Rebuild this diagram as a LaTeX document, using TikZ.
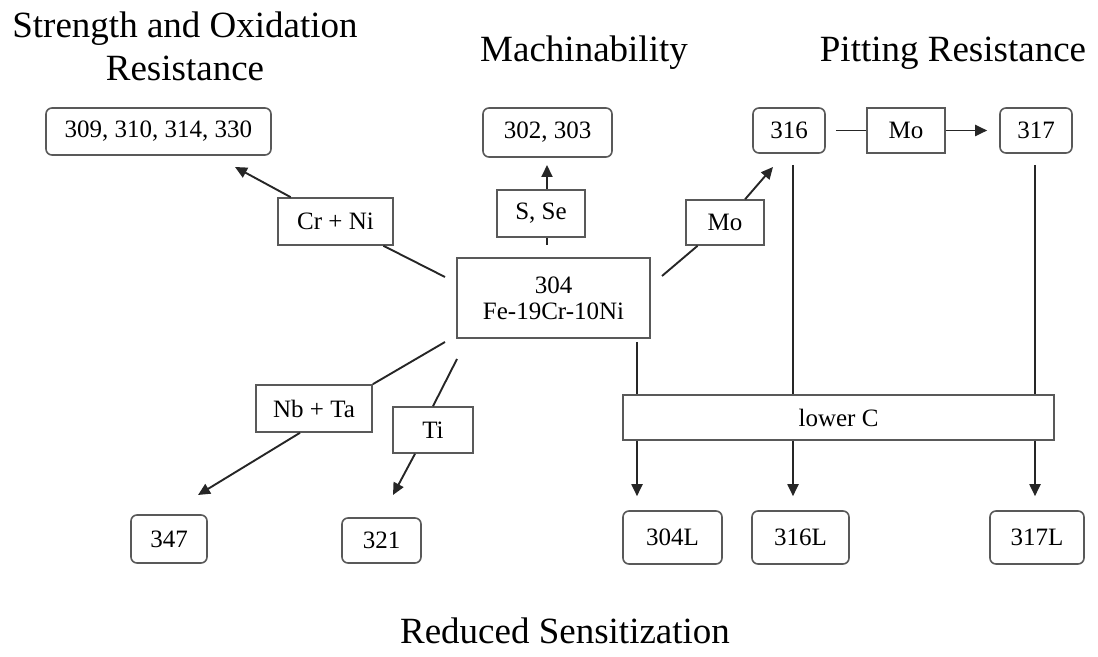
\documentclass[tikz,border=0pt]{standalone}
\usepackage{fontspec}
\setmainfont{Liberation Serif}
\usetikzlibrary{arrows.meta}
\begin{document}
\begin{tikzpicture}[x=0.5pt,y=-0.5pt,
  wh/.style 2 args={minimum width=#1*0.5pt, minimum height=#2*0.5pt},
  box/.style={draw=black!65, line width=0.8pt, fill=white, inner sep=0pt,
    font=\fontsize{12.5}{13}\selectfont, align=center},
  rbox/.style={box, rounded corners=3pt},
  title/.style={font=\fontsize{18.5}{21.5}\selectfont, align=center, inner sep=0pt},
  con/.style={draw=black!85, line width=0.95pt},
  arr/.style={con, -{Triangle[length=6pt,width=5.5pt]}}]

\useasboundingbox (0,0) rectangle (1098,657);

% titles
\node[title, anchor=base] (t1) at (185,38) {Strength and Oxidation};
\node[title, anchor=base] (t1b) at (185,81) {Resistance};
\node[title, anchor=base] (t2) at (584,62) {Machinability};
\node[title, anchor=base] (t3) at (953,62) {Pitting Resistance};
\node[title, anchor=base] (t4) at (565,643) {Reduced Sensitization};

% top boxes
\node[rbox, wh={225}{47}] (b309) at (158.5,131.5) {309, 310, 314, 330};
\node[rbox, wh={129}{49}] (b302) at (547.5,132.5) {302, 303};
\node[rbox, wh={72}{45}] (b316) at (789,130.5) {316};
\node[box,  wh={78}{45}] (moT) at (906,130.5) {Mo};
\node[rbox, wh={72}{45}] (b317) at (1036,130.5) {317};

% additive boxes
\node[box, wh={88}{47}] (sse) at (541,213.5) {S, Se};
\node[box, wh={115}{47}] (crni) at (335.5,221.5) {Cr + Ni};
\node[box, wh={78}{45}] (moL) at (725,222.5) {Mo};

% center
\node[box, wh={193}{80}] (c304) at (553.5,298) {304\\Fe-19Cr-10Ni};

\node[box, wh={116}{47}] (nbta) at (314,408.5) {Nb + Ta};
\node[box, wh={80}{46}] (ti) at (433,430) {Ti};
\node[box, wh={431}{45}] (lowc) at (838.5,417.5) {lower C};

% bottom boxes
\node[rbox, wh={76}{48}] (b347) at (169,539) {347};
\node[rbox, wh={79}{45}] (b321) at (381.5,540.5) {321};
\node[rbox, wh={99}{53}] (b304L) at (672.5,537.5) {304L};
\node[rbox, wh={97}{53}] (b316L) at (800.5,537.5) {316L};
\node[rbox, wh={94}{53}] (b317L) at (1037,537.5) {317L};

% connector end points near the boxes
\coordinate (ccr) at (445,277);
\coordinate (t309) at (235,167);
\coordinate (t302) at (547,165);
\coordinate (css) at (547,245);
\coordinate (cmo) at (662,276);
\coordinate (t316) at (773,167);
\coordinate (cnb) at (445,342);
\coordinate (t347) at (198,495);
\coordinate (cti) at (457,359);
\coordinate (t321) at (393,495);
\coordinate (v4) at (637,342);
\coordinate (v16) at (793,165);
\coordinate (v17) at (1035,165);

% connectors
\draw[con] (ccr) -- (crni);
\draw[arr] (crni) -- (t309);
\draw[con] (css) -- (t302 |- sse.south);
\draw[arr] (t302 |- sse.north) -- (t302);
\draw[con] (cmo) -- (moL);
\draw[arr] (moL) -- (t316);
\draw[con, shorten <=5pt] (b316.east) -- (moT.west);
\draw[arr, shorten >=6pt] (moT.east) -- (b317.west);

\draw[con] (cnb) -- (nbta.north east);
\draw[arr] ([xshift=-7pt]nbta.south) -- (t347);
\draw[con] (cti) -- (ti.north);
\draw[arr] ([xshift=-9pt]ti.south) -- (t321);

\draw[con] (v4) -- (v4 |- lowc.north);
\draw[con] (v16) -- (v16 |- lowc.north);
\draw[con] (v17) -- (v17 |- lowc.north);
\draw[arr, shorten >=7pt] (v4 |- lowc.south) -- (v4 |- b304L.north);
\draw[arr, shorten >=7pt] (v16 |- lowc.south) -- (v16 |- b316L.north);
\draw[arr, shorten >=7pt] (v17 |- lowc.south) -- (v17 |- b317L.north);
\end{tikzpicture}
\end{document}
